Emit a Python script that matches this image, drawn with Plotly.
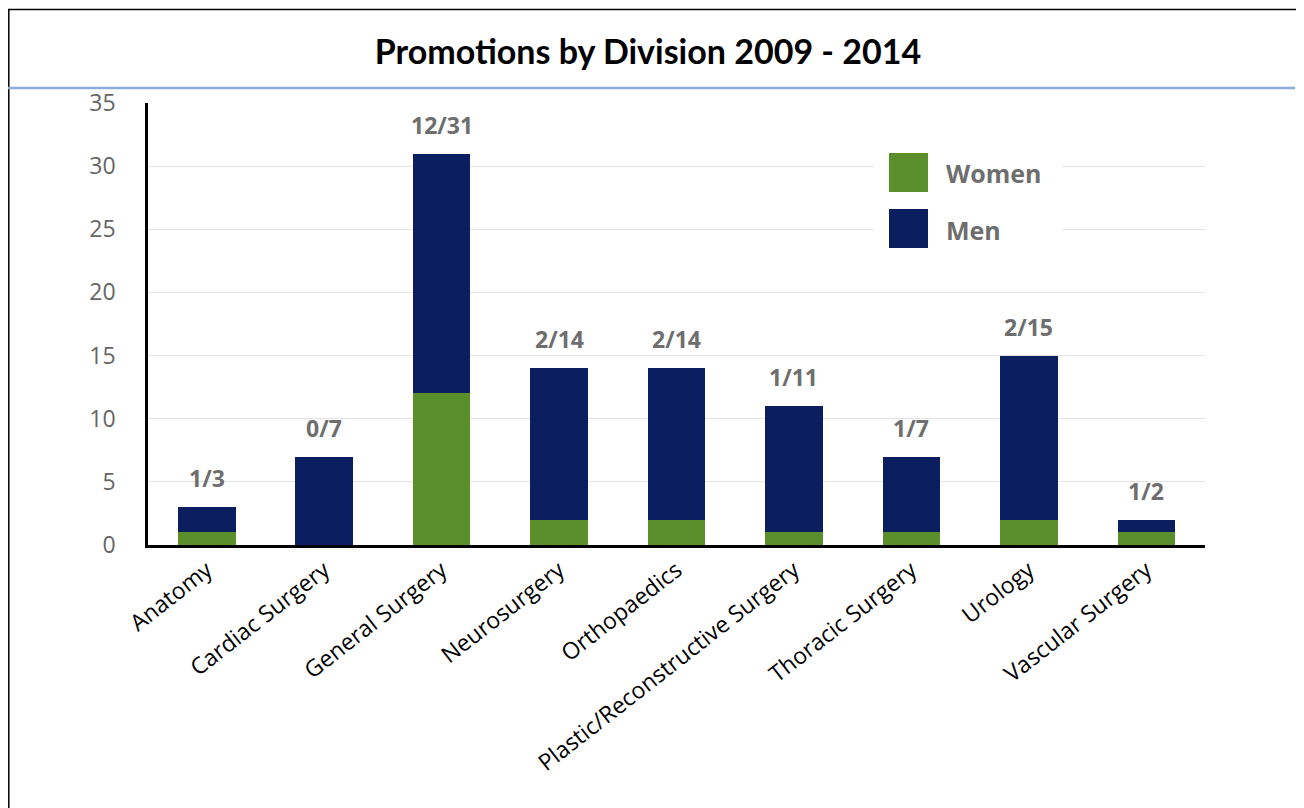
import plotly.graph_objects as go

categories = ["Anatomy", "Cardiac Surgery", "General Surgery", "Neurosurgery",
              "Orthopaedics", "Plastic/Reconstructive Surgery", "Thoracic Surgery",
              "Urology", "Vascular Surgery"]
women = [1, 0, 12, 2, 2, 1, 1, 2, 1]
totals = [3, 7, 31, 14, 14, 11, 7, 15, 2]
men = [t - w for t, w in zip(totals, women)]
y_ticks = [0, 5, 10, 15, 20, 25, 30, 35]

GREEN = "#5a8f2b"
NAVY = "#0b1f60"
GRAY = "#6e6e6e"

# page offset (body margin) compensation
OFF = 8
W, H = 1296, 800
L, R, T, B = 140, 99, 95, 263
pw, ph = W - L - R, H - T - B


def px_x(X):
    return (X - OFF - L) / pw


def px_y(Y):
    return (H - B - (Y - OFF)) / ph


fig = go.Figure()
fig.add_trace(go.Bar(x=categories, y=women, name="Women", marker_color=GREEN,
                     marker_line_width=0, width=0.49))
fig.add_trace(go.Bar(x=categories, y=men, name="Men", marker_color=NAVY,
                     marker_line_width=0, width=0.49))

annotations = []
for c, w, t in zip(categories, women, totals):
    annotations.append(dict(x=c, y=t, xref="x", yref="y", text=f"<b>{w}/{t}</b>",
                            showarrow=False, yanchor="bottom", yshift=11,
                            font=dict(family="Open Sans", size=23, color=GRAY)))

shapes = [
    # outer border
    dict(type="rect", xref="paper", yref="paper", x0=px_x(8.8), x1=px_x(1300),
         y0=px_y(830), y1=px_y(9.5), line=dict(color="black", width=1.5),
         fillcolor="rgba(0,0,0,0)", layer="above"),
    # blue separator line under title
    dict(type="line", xref="paper", yref="paper", x0=px_x(0), x1=px_x(1295),
         y0=px_y(88), y1=px_y(88), line=dict(color="#8eaadb", width=2.5)),
    # legend background
    dict(type="rect", xref="paper", yref="paper", x0=px_x(874), x1=px_x(1062),
         y0=px_y(255), y1=px_y(145), fillcolor="white", line_width=0, layer="above"),
    dict(type="rect", xref="paper", yref="paper", x0=px_x(889), x1=px_x(928),
         y0=px_y(192), y1=px_y(153), fillcolor=GREEN, line_width=0, layer="above"),
    dict(type="rect", xref="paper", yref="paper", x0=px_x(889), x1=px_x(928),
         y0=px_y(248), y1=px_y(209), fillcolor=NAVY, line_width=0, layer="above"),
]
annotations += [
    dict(xref="paper", yref="paper", x=px_x(944), y=px_y(173), text="<b>Women</b>",
         showarrow=False, xanchor="left", yanchor="middle",
         font=dict(family="Open Sans", size=25, color=GRAY)),
    dict(xref="paper", yref="paper", x=px_x(944), y=px_y(230), text="<b>Men</b>",
         showarrow=False, xanchor="left", yanchor="middle",
         font=dict(family="Open Sans", size=25, color=GRAY)),
]

fig.update_layout(
    width=W, height=H,
    margin=dict(l=L, r=R, t=T, b=B),
    barmode="stack",
    showlegend=False,
    plot_bgcolor="white", paper_bgcolor="white",
    title=dict(text="<b>Promotions by Division 2009 - 2014</b>",
               xref="container", x=(648 - OFF) / W, xanchor="center",
               yref="container", y=1 - (52 - OFF) / H, yanchor="middle",
               font=dict(family="Lato", size=34, color="black")),
    shapes=shapes,
    annotations=annotations,
)
fig.update_xaxes(range=[-0.5, 8.5], tickangle=-38, showline=True, linecolor="black",
                 linewidth=2.5, showgrid=False, ticks="",
                 tickfont=dict(family="Open Sans", size=23, color="black"))
fig.update_yaxes(range=[0, 35], tickvals=y_ticks, showline=True, linecolor="black",
                 linewidth=2.5, showgrid=True, gridcolor="#e3e3e3", gridwidth=1,
                 zeroline=False, ticks="", ticklabelstandoff=25,
                 tickfont=dict(family="Open Sans", size=23, color="#666666"))

fig.write_html("out.html")
